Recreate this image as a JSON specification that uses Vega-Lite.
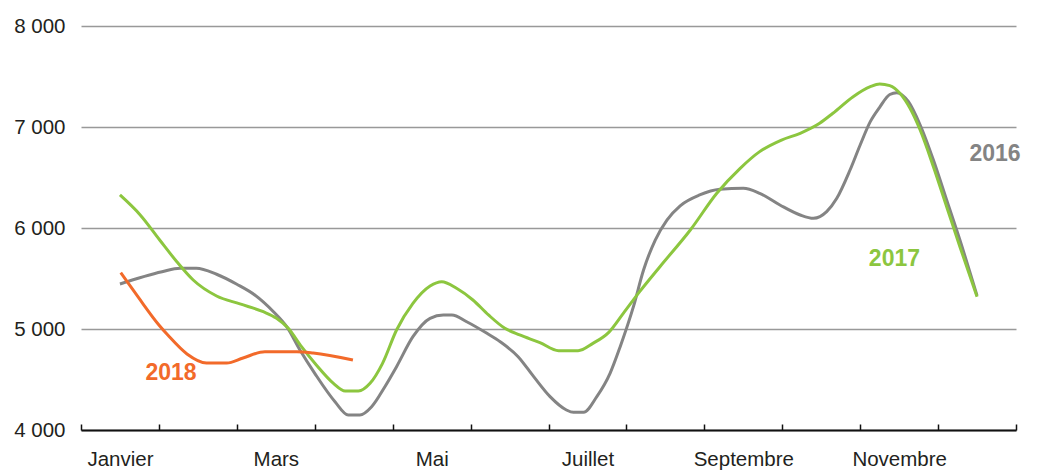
{
  "$schema": "https://vega.github.io/schema/vega-lite/v6.json",
  "width": 935,
  "height": 404,
  "autosize": {"type": "none"},
  "padding": {"left": 81, "top": 26, "right": 21, "bottom": 40},
  "background": "white",
  "config": {
    "view": {"stroke": null},
    "font": "Liberation Sans"
  },
  "datasets": {
    "series": [
      {"annee": "2016", "mois": 0.50, "valeur": 5446},
      {"annee": "2016", "mois": 1.04, "valeur": 5567},
      {"annee": "2016", "mois": 1.27, "valeur": 5601},
      {"annee": "2016", "mois": 1.48, "valeur": 5601},
      {"annee": "2016", "mois": 1.74, "valeur": 5542},
      {"annee": "2016", "mois": 2.00, "valeur": 5443},
      {"annee": "2016", "mois": 2.23, "valeur": 5337},
      {"annee": "2016", "mois": 2.47, "valeur": 5171},
      {"annee": "2016", "mois": 2.64, "valeur": 5023},
      {"annee": "2016", "mois": 2.81, "valeur": 4792},
      {"annee": "2016", "mois": 3.00, "valeur": 4561},
      {"annee": "2016", "mois": 3.26, "valeur": 4280},
      {"annee": "2016", "mois": 3.43, "valeur": 4149},
      {"annee": "2016", "mois": 3.58, "valeur": 4149},
      {"annee": "2016", "mois": 3.73, "valeur": 4231},
      {"annee": "2016", "mois": 3.90, "valeur": 4429},
      {"annee": "2016", "mois": 4.05, "valeur": 4627},
      {"annee": "2016", "mois": 4.26, "valeur": 4924},
      {"annee": "2016", "mois": 4.48, "valeur": 5106},
      {"annee": "2016", "mois": 4.65, "valeur": 5139},
      {"annee": "2016", "mois": 4.76, "valeur": 5139},
      {"annee": "2016", "mois": 4.95, "valeur": 5072},
      {"annee": "2016", "mois": 5.21, "valeur": 4957},
      {"annee": "2016", "mois": 5.38, "valeur": 4874},
      {"annee": "2016", "mois": 5.61, "valeur": 4726},
      {"annee": "2016", "mois": 5.81, "valeur": 4528},
      {"annee": "2016", "mois": 6.02, "valeur": 4330},
      {"annee": "2016", "mois": 6.23, "valeur": 4198},
      {"annee": "2016", "mois": 6.32, "valeur": 4175},
      {"annee": "2016", "mois": 6.45, "valeur": 4175},
      {"annee": "2016", "mois": 6.62, "valeur": 4330},
      {"annee": "2016", "mois": 6.79, "valeur": 4561},
      {"annee": "2016", "mois": 6.92, "valeur": 4825},
      {"annee": "2016", "mois": 7.09, "valeur": 5221},
      {"annee": "2016", "mois": 7.22, "valeur": 5584},
      {"annee": "2016", "mois": 7.37, "valeur": 5881},
      {"annee": "2016", "mois": 7.52, "valeur": 6079},
      {"annee": "2016", "mois": 7.69, "valeur": 6220},
      {"annee": "2016", "mois": 7.94, "valeur": 6327},
      {"annee": "2016", "mois": 8.20, "valeur": 6383},
      {"annee": "2016", "mois": 8.50, "valeur": 6393},
      {"annee": "2016", "mois": 8.71, "valeur": 6344},
      {"annee": "2016", "mois": 8.97, "valeur": 6228},
      {"annee": "2016", "mois": 9.23, "valeur": 6129},
      {"annee": "2016", "mois": 9.40, "valeur": 6096},
      {"annee": "2016", "mois": 9.57, "valeur": 6162},
      {"annee": "2016", "mois": 9.70, "valeur": 6294},
      {"annee": "2016", "mois": 9.87, "valeur": 6574},
      {"annee": "2016", "mois": 10.00, "valeur": 6822},
      {"annee": "2016", "mois": 10.13, "valeur": 7053},
      {"annee": "2016", "mois": 10.25, "valeur": 7195},
      {"annee": "2016", "mois": 10.38, "valeur": 7322},
      {"annee": "2016", "mois": 10.47, "valeur": 7340},
      {"annee": "2016", "mois": 10.62, "valeur": 7250},
      {"annee": "2016", "mois": 10.77, "valeur": 7020},
      {"annee": "2016", "mois": 10.94, "valeur": 6673},
      {"annee": "2016", "mois": 11.11, "valeur": 6277},
      {"annee": "2016", "mois": 11.28, "valeur": 5881},
      {"annee": "2016", "mois": 11.50, "valeur": 5330},
      {"annee": "2017", "mois": 0.50, "valeur": 6327},
      {"annee": "2017", "mois": 0.76, "valeur": 6129},
      {"annee": "2017", "mois": 1.01, "valeur": 5881},
      {"annee": "2017", "mois": 1.23, "valeur": 5666},
      {"annee": "2017", "mois": 1.44, "valeur": 5485},
      {"annee": "2017", "mois": 1.74, "valeur": 5327},
      {"annee": "2017", "mois": 2.04, "valeur": 5248},
      {"annee": "2017", "mois": 2.34, "valeur": 5171},
      {"annee": "2017", "mois": 2.51, "valeur": 5106},
      {"annee": "2017", "mois": 2.66, "valeur": 5007},
      {"annee": "2017", "mois": 2.83, "valeur": 4825},
      {"annee": "2017", "mois": 3.02, "valeur": 4644},
      {"annee": "2017", "mois": 3.24, "valeur": 4462},
      {"annee": "2017", "mois": 3.39, "valeur": 4386},
      {"annee": "2017", "mois": 3.56, "valeur": 4386},
      {"annee": "2017", "mois": 3.71, "valeur": 4462},
      {"annee": "2017", "mois": 3.87, "valeur": 4660},
      {"annee": "2017", "mois": 4.05, "valeur": 4990},
      {"annee": "2017", "mois": 4.26, "valeur": 5254},
      {"annee": "2017", "mois": 4.48, "valeur": 5426},
      {"annee": "2017", "mois": 4.63, "valeur": 5469},
      {"annee": "2017", "mois": 4.82, "valeur": 5403},
      {"annee": "2017", "mois": 5.03, "valeur": 5287},
      {"annee": "2017", "mois": 5.23, "valeur": 5139},
      {"annee": "2017", "mois": 5.44, "valeur": 5007},
      {"annee": "2017", "mois": 5.63, "valeur": 4941},
      {"annee": "2017", "mois": 5.89, "valeur": 4865},
      {"annee": "2017", "mois": 6.13, "valeur": 4785},
      {"annee": "2017", "mois": 6.38, "valeur": 4785},
      {"annee": "2017", "mois": 6.57, "valeur": 4858},
      {"annee": "2017", "mois": 6.77, "valeur": 4964},
      {"annee": "2017", "mois": 6.96, "valeur": 5155},
      {"annee": "2017", "mois": 7.17, "valeur": 5370},
      {"annee": "2017", "mois": 7.43, "valeur": 5617},
      {"annee": "2017", "mois": 7.82, "valeur": 5980},
      {"annee": "2017", "mois": 8.16, "valeur": 6344},
      {"annee": "2017", "mois": 8.46, "valeur": 6591},
      {"annee": "2017", "mois": 8.71, "valeur": 6756},
      {"annee": "2017", "mois": 8.99, "valeur": 6871},
      {"annee": "2017", "mois": 9.23, "valeur": 6938},
      {"annee": "2017", "mois": 9.48, "valeur": 7037},
      {"annee": "2017", "mois": 9.65, "valeur": 7136},
      {"annee": "2017", "mois": 9.91, "valeur": 7300},
      {"annee": "2017", "mois": 10.13, "valeur": 7399},
      {"annee": "2017", "mois": 10.25, "valeur": 7426},
      {"annee": "2017", "mois": 10.38, "valeur": 7410},
      {"annee": "2017", "mois": 10.51, "valeur": 7334},
      {"annee": "2017", "mois": 10.64, "valeur": 7185},
      {"annee": "2017", "mois": 10.77, "valeur": 6970},
      {"annee": "2017", "mois": 10.94, "valeur": 6607},
      {"annee": "2017", "mois": 11.11, "valeur": 6211},
      {"annee": "2017", "mois": 11.28, "valeur": 5815},
      {"annee": "2017", "mois": 11.50, "valeur": 5320},
      {"annee": "2018", "mois": 0.51, "valeur": 5557},
      {"annee": "2018", "mois": 0.73, "valeur": 5320},
      {"annee": "2018", "mois": 1.00, "valeur": 5040},
      {"annee": "2018", "mois": 1.12, "valeur": 4935},
      {"annee": "2018", "mois": 1.36, "valeur": 4753},
      {"annee": "2018", "mois": 1.61, "valeur": 4663},
      {"annee": "2018", "mois": 1.87, "valeur": 4663},
      {"annee": "2018", "mois": 2.08, "valeur": 4713},
      {"annee": "2018", "mois": 2.36, "valeur": 4775},
      {"annee": "2018", "mois": 2.77, "valeur": 4775},
      {"annee": "2018", "mois": 2.98, "valeur": 4762},
      {"annee": "2018", "mois": 3.49, "valeur": 4693}
    ],
    "etiquettes": [
      {"annee": "2016", "mois": 11.73, "valeur": 6733},
      {"annee": "2017", "mois": 10.44, "valeur": 5693},
      {"annee": "2018", "mois": 1.155, "valeur": 4565}
    ]
  },
  "layer": [
    {
      "data": {"name": "series"},
      "mark": {"type": "line", "strokeWidth": 3, "interpolate": "monotone"},
      "encoding": {
        "x": {
          "field": "mois",
          "type": "quantitative",
          "scale": {"domain": [0, 12], "nice": false, "zero": false},
          "axis": {
            "title": null,
            "values": [0, 1, 2, 3, 4, 5, 6, 7, 8, 9, 10, 11, 12],
            "labelExpr": "['Janvier', '', 'Mars', '', 'Mai', '', 'Juillet', '', 'Septembre', '', 'Novembre', '', ''][datum.value]",
            "labelOffset": 39,
            "labelFontSize": 20.5,
            "labelColor": "#231f20",
            "labelPadding": 25,
            "labelOverlap": false,
            "labelFlush": false,
            "labelBound": false,
            "grid": false,
            "tickSize": -6,
            "tickColor": "#111111",
            "tickWidth": 1.5,
            "domainColor": "#111111",
            "domainWidth": 2
          }
        },
        "y": {
          "field": "valeur",
          "type": "quantitative",
          "scale": {"domain": [4000, 8000], "nice": false, "zero": false},
          "axis": {
            "title": null,
            "values": [4000, 5000, 6000, 7000, 8000],
            "labelExpr": "replace(format(datum.value, ','), ',', ' ')",
            "labelFontSize": 20.5,
            "labelColor": "#231f20",
            "labelPadding": 16,
            "ticks": false,
            "domain": false,
            "grid": true,
            "gridColor": "#999999",
            "gridWidth": 1.5
          }
        },
        "color": {
          "field": "annee",
          "type": "nominal",
          "scale": {"domain": ["2016", "2017", "2018"], "range": ["#848484", "#8cc63f", "#f26a2a"]},
          "legend": null
        }
      }
    },
    {
      "data": {"name": "etiquettes"},
      "mark": {"type": "text", "fontSize": 23, "fontWeight": "bold", "align": "center", "baseline": "middle"},
      "encoding": {
        "x": {"field": "mois", "type": "quantitative"},
        "y": {"field": "valeur", "type": "quantitative"},
        "text": {"field": "annee"},
        "color": {"field": "annee", "type": "nominal", "legend": null}
      }
    }
  ]
}
